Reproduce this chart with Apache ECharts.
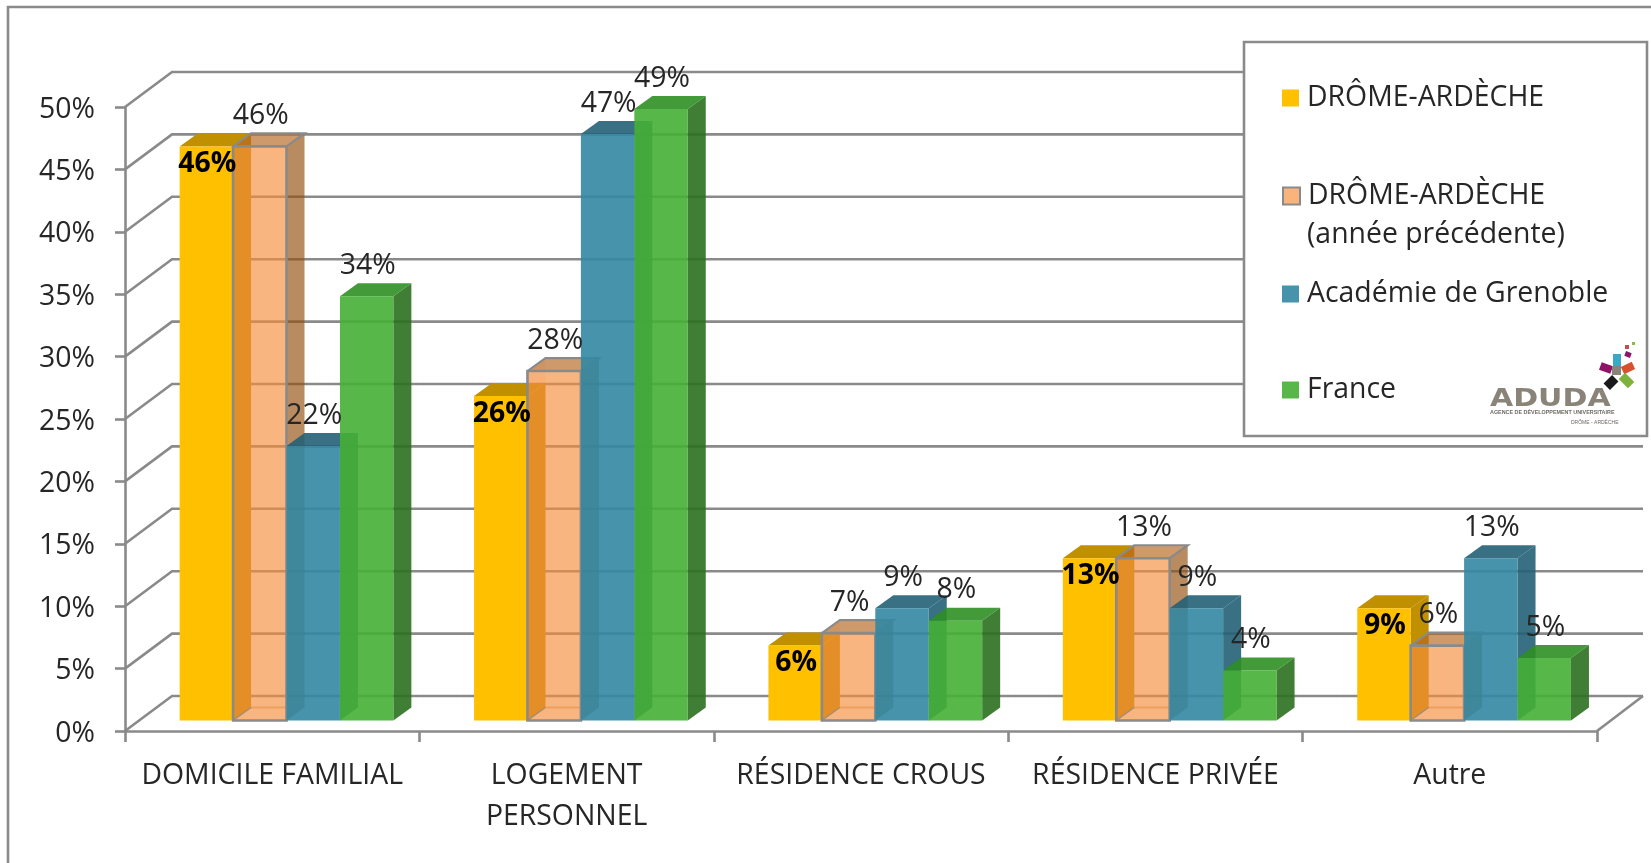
<!DOCTYPE html>
<html lang="fr">
<head>
<meta charset="utf-8">
<title>Logement des étudiants</title>
<style>html,body{margin:0;padding:0;background:#fff}#c{width:1651px;height:863px}</style>
<script src="https://cdn.jsdelivr.net/npm/echarts@6/dist/echarts.min.js"></script>
</head>
<body>
<div id="c"></div>
<script>
const categories = ['DOMICILE FAMILIAL', 'LOGEMENT\nPERSONNEL', 'RÉSIDENCE CROUS', 'RÉSIDENCE PRIVÉE', 'Autre'];
const yTicks = [0, 5, 10, 15, 20, 25, 30, 35, 40, 45, 50];
const dromeArdeche = [46, 26, 6, 13, 9];
const dromeArdechePrev = [46, 28, 7, 13, 6];
const academie = [22, 47, 9, 9, 13];
const france = [34, 49, 8, 4, 5];
const seriesNames = ['DRÔME-ARDÈCHE', 'DRÔME-ARDÈCHE (année précédente)', 'Académie de Grenoble', 'France'];

const FONT = '"Open Sans", Lato, sans-serif';
const FS = 28.4, TXT = '#262626', GRID = '#8A8A8A', GLW = 2.6;
const WALL = [47, -35], DEPTH = [18, -13], SHIFT = [14.3, -10.5], BARW = 0.1815;

const looks = [
  {legend: '#FFC000', front: '#FFC000', side: '#C09000', top: '#C09000', bold: true},
  {legend: '#F9B47B', front: 'rgba(244,142,58,.65)', side: 'rgba(146,77,11,.65)', top: 'rgba(180,100,29,.65)', open: true},
  {legend: '#4793AB', front: 'rgba(50,135,162,.9)', side: 'rgba(36,96,117,.9)', top: 'rgba(36,96,117,.9)'},
  {legend: '#58B749', front: 'rgba(69,175,53,.9)', side: 'rgba(44,112,31,.9)', top: 'rgba(46,143,36,.9)'}
];

function barRender(idx) {
  const look = looks[idx];
  return function (params, api) {
    const cat = api.value(0), val = api.value(1);
    const b = api.coord([cat, 0]), t = api.coord([cat, val]);
    const w = api.size([1, 0])[0] * BARW;
    const x0 = b[0] + SHIFT[0] + (idx - 2) * w, x1 = x0 + w;
    const y0 = b[1] + SHIFT[1], y1 = t[1] + SHIFT[1];
    const dx = DEPTH[0], dy = DEPTH[1], z2 = 10 * (idx + 1);
    const poly = (pts, fill) => ({type: 'polygon', z2, shape: {points: pts}, style: {fill}});
    const line = (pts, stroke, lw) => ({type: 'polyline', z2, shape: {points: pts}, style: {fill: 'none', stroke, lineWidth: lw}});
    const kids = [];
    if (look.open) {
      kids.push(poly([[x0, y0], [x0 + dx, y0 + dy], [x0 + dx, y1 + dy], [x0, y1]], 'rgba(246,140,52,.12)'));
      kids.push(line([[x0 + dx, y0 + dy], [x1, y0 + dy]], 'rgba(190,110,50,.45)', 2));
    }
    kids.push(poly([[x1, y0], [x1 + dx, y0 + dy], [x1 + dx, y1 + dy], [x1, y1]], look.side));
    kids.push(poly([[x0, y1], [x0 + dx, y1 + dy], [x1 + dx, y1 + dy], [x1, y1]], look.top));
    kids.push(poly([[x0, y0], [x1, y0], [x1, y1], [x0, y1]], look.front));
    if (look.open) {
      kids.push(line([[x0, y0], [x0 + dx, y0 + dy]], 'rgba(134,134,134,.7)', 1.5));
      kids.push(line([[x0, y1], [x0 + dx, y1 + dy], [x1 + dx, y1 + dy], [x1, y1]], GRID, 2.2));
      kids.push({type: 'rect', z2, shape: {x: x0, y: y1, width: w, height: y0 - y1}, style: {fill: 'none', stroke: GRID, lineWidth: 2.6}});
    }
    const cx = (x0 + x1) / 2 + 1;
    kids.push({type: 'text', z2: 100, style: {
      x: cx, y: look.bold ? y1 + 17.5 : y1 - 30.5, text: val + '%', align: 'center', verticalAlign: 'middle',
      fontFamily: FONT, fontSize: FS, fontWeight: look.bold ? 'bold' : 'normal', fill: look.bold ? '#000' : TXT
    }});
    return {type: 'group', children: kids};
  };
}

function gridRender(params, api) {
  const cs = params.coordSys;
  const y = api.coord([0, api.value(0)])[1];
  const xl = cs.x, xr = cs.x + cs.width;
  const kids = [{type: 'polyline', shape: {points: [[xl, y], [xl + WALL[0], y + WALL[1]], [xr + WALL[0] - 1, y + WALL[1]]]},
    style: {fill: 'none', stroke: GRID, lineWidth: GLW}}];
  if (api.value(0) === 0) {
    kids.push({type: 'line', shape: {x1: xr, y1: y, x2: xr + WALL[0] - 1, y2: y + WALL[1]}, style: {stroke: GRID, lineWidth: GLW}});
  }
  return {type: 'group', children: kids};
}

const barSeries = [dromeArdeche, dromeArdechePrev, academie, france].map((vals, i) => ({
  type: 'custom', name: seriesNames[i], z: 3, clip: false,
  itemStyle: {color: looks[i].legend},
  encode: {x: 0, y: 1},
  data: vals.map((v, c) => [c, v]),
  renderItem: barRender(i)
}));

const legendRows = [[0, 83], [1, 181], [2, 279], [3, 375]];
const legends = legendRows.map(([i, top]) => ({
  left: 1282, top, z: 10, padding: 0, orient: 'vertical', selectedMode: false, icon: 'rect',
  itemWidth: 17, itemHeight: 17,
  data: [{name: seriesNames[i], itemStyle: i === 1 ? {color: looks[1].legend, borderColor: GRID, borderWidth: 2} : {color: looks[i].legend}}],
  formatter: () => seriesNames[i].replace(' (année précédente)', ''),
  textStyle: {fontFamily: FONT, fontSize: FS, color: TXT, lineHeight: 30, padding: [0, 0, 0, 3]}
}));

const logoBits = [
  [1613, 354, 8, 12, 0, '#3AA9C4'],
  [1600, 364, 12, 8, 20, '#8E1266'],
  [1622, 364, 12, 8, -25, '#D9502E'],
  [1605, 378, 12, 9, -45, '#1A1A1A'],
  [1620, 376, 13, 9, 45, '#7FB23C'],
  [1612, 366, 9, 9, 0, '#8A8378'],
  [1625, 345, 4, 4, 0, '#C0504D'],
  [1632, 342, 3, 3, 0, '#8DBB3C'],
  [1625, 352, 6, 5, 20, '#8E1266']
];

const chart = echarts.init(document.getElementById('c'), null, {renderer: 'canvas'});
chart.setOption({
  animation: false,
  backgroundColor: '#fff',
  legend: legends,
  grid: {left: 125, right: 54, top: 107, bottom: 132},
  xAxis: {
    type: 'category', data: categories, boundaryGap: true,
    axisLine: {lineStyle: {color: GRID, width: GLW}},
    axisTick: {show: true, alignWithLabel: false, length: 11, lineStyle: {color: GRID, width: GLW}},
    axisLabel: {margin: 24, interval: 0, fontFamily: FONT, fontSize: FS, color: TXT, lineHeight: 41}
  },
  yAxis: {
    type: 'value', min: 0, max: 50, interval: 5,
    axisLine: {show: true, lineStyle: {color: GRID, width: GLW}},
    axisTick: {show: true, length: 10, lineStyle: {color: GRID, width: GLW}},
    splitLine: {show: false},
    axisLabel: {margin: 30, formatter: '{t|{value}%}', rich: {t: {padding: [5, 0, 0, 0], fontFamily: FONT, fontSize: FS, color: TXT}}, fontFamily: FONT, fontSize: FS, color: TXT}
  },
  series: [{
    type: 'custom', name: 'grille', z: 2, silent: true, clip: false,
    encode: {y: 0}, data: yTicks.map(v => [v]), renderItem: gridRender
  }].concat(barSeries),
  graphic: [
    {type: 'polyline', z: 1, silent: true, shape: {points: [[8, 863], [8, 7], [1651, 7]]}, style: {fill: 'none', stroke: GRID, lineWidth: GLW}},
    {type: 'rect', z: 8, silent: true, shape: {x: 1244, y: 42, width: 403, height: 394}, style: {fill: '#fff', stroke: GRID, lineWidth: GLW}},
    {type: 'text', z: 10, silent: true, style: {x: 1307, y: 235, text: '(année précédente)', verticalAlign: 'middle', fontFamily: FONT, fontSize: FS, fill: TXT}},
    ...logoBits.map(([x, y, w, h, r, fill]) => ({type: 'rect', z: 9, silent: true, x: x + w / 2, y: y + h / 2, rotation: -r * Math.PI / 180,
      shape: {x: -w / 2, y: -h / 2, width: w, height: h}, style: {fill}})),
    {type: 'text', z: 9, silent: true, x: 1490, y: 399, scaleX: 1.2, style: {text: 'ADUDA', verticalAlign: 'middle', fontFamily: '"DejaVu Sans"', fontWeight: 'bold', fontSize: 25, fill: '#8A8378'}},
    {type: 'text', z: 9, silent: true, style: {x: 1490, y: 413, text: 'AGENCE DE DÉVELOPPEMENT UNIVERSITAIRE', verticalAlign: 'middle', fontFamily: '"Liberation Sans"', fontSize: 5.4, fontWeight: 'bold', fill: '#6E6A64'}},
    {type: 'text', z: 9, silent: true, style: {x: 1571, y: 423, text: 'DRÔME - ARDÈCHE', verticalAlign: 'middle', fontFamily: '"Liberation Sans"', fontSize: 5, fill: '#6E6A64'}}
  ]
});
</script>
</body>
</html>
